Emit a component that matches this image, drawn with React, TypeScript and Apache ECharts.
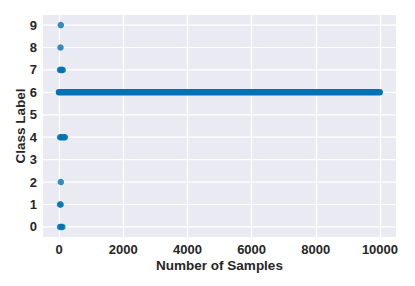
import React, { useEffect, useRef } from "react";
import * as echarts from "echarts";

// Dense run of class 6 samples: [start, end] sample index
const class6Run: [number, number] = [0, 9990];

// Sparse samples of the other classes: [sample index, class label]
const class0: number[][] = [[30, 0], [70, 0], [105, 0]];
const class1: number[][] = [[30, 1], [50, 1]];
const class2: number[][] = [[55, 2]];
const class4: number[][] = [[30, 4], [60, 4], [90, 4], [130, 4], [160, 4], [185, 4]];
const class7: number[][] = [[30, 7], [60, 7], [90, 7], [115, 7]];
const class8: number[][] = [[45, 8]];
const class9: number[][] = [[55, 9]];

const xTicks = [0, 2000, 4000, 6000, 8000, 10000];
const yTicks = [0, 1, 2, 3, 4, 5, 6, 7, 8, 9];

const BLUE = "#0173b2";
const TEXT = "#262626";
const FONT = "'Liberation Sans', Arial, Helvetica, sans-serif";

export default function App() {
  const ref = useRef<HTMLDivElement>(null);
  useEffect(() => {
    if (!ref.current) return;
    const chart = echarts.init(ref.current, undefined, { renderer: "svg" });
    const scatterPts = [...class0, ...class1, ...class2, ...class4, ...class7, ...class8, ...class9];
    const gridData: any[] = [];
    yTicks.forEach((v) => {
      gridData.push([-500, v], [10500, v], null);
    });
    chart.setOption({
      animation: false,
      backgroundColor: "#ffffff",
      grid: {
        left: 43,
        right: 19,
        top: 15,
        bottom: 49,
        show: true,
        backgroundColor: "#eaeaf2",
        borderWidth: 0,
      },
      xAxis: {
        type: "value",
        min: -500,
        max: 10500,
        name: "Number of Samples",
        nameLocation: "middle",
        nameGap: 21,
        nameMoveOverlap: false,
        nameTextStyle: { color: TEXT, fontSize: 13.5, fontWeight: "bold", fontFamily: FONT },
        axisLine: { show: false },
        axisTick: { show: false, customValues: xTicks },
        splitLine: { show: true, lineStyle: { color: "#ffffff", width: 1.2 } },
        axisLabel: {
          color: TEXT,
          fontSize: 13,
          fontWeight: "bold",
          fontFamily: FONT,
          margin: 6,
          customValues: xTicks,
          formatter: (v: number) => String(v),
        },
      },
      yAxis: {
        type: "value",
        min: -0.45,
        max: 9.45,
        name: "Class Label",
        nameLocation: "middle",
        nameGap: 16,
        nameMoveOverlap: false,
        nameTextStyle: { color: TEXT, fontSize: 13.5, fontWeight: "bold", fontFamily: FONT },
        axisLine: { show: false },
        axisTick: { show: false, customValues: yTicks },
        splitLine: { show: false },
        axisLabel: {
          color: TEXT,
          fontSize: 13,
          fontWeight: "bold",
          fontFamily: FONT,
          margin: 6,
          customValues: yTicks,
        },
      },
      series: [
        {
          type: "line",
          data: gridData,
          symbol: "none",
          silent: true,
          connectNulls: false,
          lineStyle: { color: "#ffffff", width: 1.2 },
          z: 1,
        },
        {
          type: "line",
          data: [[class6Run[0], 6], [class6Run[1], 6]],
          symbol: "none",
          lineStyle: { color: BLUE, width: 6.5, cap: "round" },
          z: 3,
        },
        {
          type: "scatter",
          data: scatterPts,
          symbol: "circle",
          symbolSize: 6.5,
          itemStyle: { color: BLUE },
          z: 3,
        },
      ],
    });
    return () => chart.dispose();
  }, []);
  return (
    <div
      ref={ref}
      style={{ position: "fixed", left: 0, top: 0, width: 415, height: 286 }}
    />
  );
}
